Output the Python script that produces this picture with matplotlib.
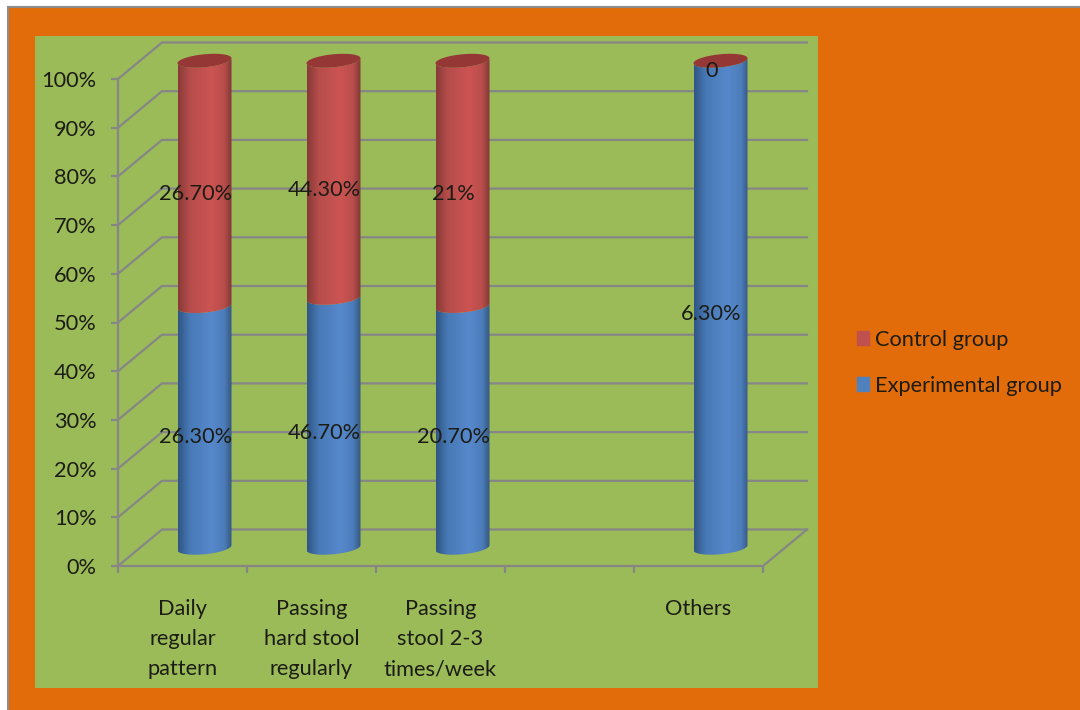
import numpy as np
import matplotlib
matplotlib.use("Agg")
import matplotlib.pyplot as plt
from matplotlib.colors import LinearSegmentedColormap
from matplotlib.patches import PathPatch, Rectangle
from matplotlib.path import Path

# Bowel pattern by study group
categories = ["Daily\nregular\npattern", "Passing\nhard stool\nregularly",
              "Passing\nstool 2-3\ntimes/week", "", "Others"]
experimental = [26.3, 46.7, 20.7, None, 6.3]
control = [26.7, 44.3, 21, None, 0]
percent_ticks = list(range(0, 101, 10))

W, H = 1080, 710
GRID = "#868686"
TEXT = "#1c1c14"

plt.rcParams["font.family"] = ["Lato", "DejaVu Sans"]
plt.rcParams["font.size"] = 15.7

fig = plt.figure(figsize=(W / 100, H / 100), dpi=100, facecolor="white")


def box(x0, y0, x1, y1):
    # pixel box (y down) to figure fractions
    return [x0 / W, 1 - y1 / H, (x1 - x0) / W, (y1 - y0) / H]


def add_rect(x0, y0, x1, y1, **kw):
    l, b, w, h = box(x0, y0, x1, y1)
    fig.add_artist(Rectangle((l, b), w, h, transform=fig.transFigure, zorder=-1, **kw))


add_rect(8, 7, W + 20, H + 20, facecolor="#E36C0A", edgecolor="#8C8C8C", linewidth=1.5)
add_rect(35, 36, 818, 688, facecolor="#9BBB59", edgecolor="none")

ax = fig.add_axes(box(118, 79, 763, 566))
ax.patch.set_visible(False)

# depth of the 3D box, in data units
dx = 44 / 129
dy = 36.5 / 4.87

for p in percent_ticks:
    ax.plot([0, dx, 5 + dx], [p, p + dy, p + dy], color=GRID, lw=1.6, clip_on=False, zorder=1,
            solid_joinstyle="miter")
ax.plot([5, 5 + dx], [0, dy], color=GRID, lw=1.6, clip_on=False, zorder=1)

# cylinder sizes, in data units
a = 27 / 129
b = 6.5 / 4.87
s = 2.5 / 4.87


def front_arc(cx, y):
    t = np.linspace(np.pi, 2 * np.pi, 60)
    return cx + a * np.cos(t), y + b * np.sin(t) + s * np.cos(t)


def shaded(colors):
    return LinearSegmentedColormap.from_list("cyl", list(zip([0, 0.22, 0.62, 0.86, 1], colors)))


blue_map = shaded(["#2F5583", "#487AB7", "#5688CC", "#4C7CB9", "#34567F"])
red_map = shaded(["#883A38", "#B64D4B", "#CC5452", "#B84D4B", "#7F3735"])
gradient = np.linspace(0, 1, 256).reshape(1, -1)


def segment(cx, low, high, cmap):
    x1, y1 = front_arc(cx, low)
    x2, y2 = front_arc(cx, high)
    verts = np.column_stack([np.r_[x1, x2[::-1]], np.r_[y1, y2[::-1]]])
    verts = np.vstack([verts, verts[0]])
    im = ax.imshow(gradient, cmap=cmap, aspect="auto", zorder=3,
                   extent=[cx - a, cx + a, low - 3 * b, high + 3 * b])
    im.set_clip_box(fig.bbox)
    im.set_clip_path(PathPatch(Path(verts), transform=ax.transData))


def label_text(v):
    if v == 0:
        return "0"
    if float(v).is_integer():
        return f"{v:.0f}%"
    return f"{v:.2f}%"


for i, (e, c) in enumerate(zip(experimental, control)):
    if e is None:
        continue
    share = e / (e + c) * 100
    cx = i + 0.5 + dx / 2
    yc = dy / 2
    segment(cx, yc, yc + share, blue_map)
    if c > 0:
        segment(cx, yc + share, yc + 100, red_map)
    # top of the cylinder
    t = np.linspace(0, 2 * np.pi, 120)
    ax.fill(cx + a * np.cos(t), yc + 100 + b * np.sin(t) + s * np.cos(t),
            color="#953735", zorder=4, clip_on=False, lw=0)
    # value labels
    for v, mid in ((e, share / 2), (c, share + (100 - share) / 2)):
        ax.annotate(label_text(v), (i + 0.5, mid), xytext=(13, 8), textcoords="offset pixels",
                    ha="center", va="center", color=TEXT, zorder=5, annotation_clip=False)

ax.set_xlim(0, 5)
ax.set_ylim(0, 100)

for side in ("top", "right"):
    ax.spines[side].set_visible(False)
for side in ("left", "bottom"):
    ax.spines[side].set_color(GRID)
    ax.spines[side].set_linewidth(1.6)

ax.set_yticks(percent_ticks)
ax.set_yticklabels([f"{p}%" for p in percent_ticks], color=TEXT)
ax.set_xticks(range(6))
ax.set_xticklabels([])
ax.set_xticks(np.arange(5) + 0.5, categories, minor=True, color=TEXT, linespacing=1.64)
ax.tick_params(axis="both", which="major", color=GRID, width=1.6, length=5)
ax.tick_params(axis="y", pad=10.5)
ax.tick_params(axis="x", which="minor", length=0, pad=23.5)

handles = [Rectangle((0, 0), 1, 1, color="#C0504D"), Rectangle((0, 0), 1, 1, color="#4F81BD")]
fig.legend(handles, ["Control group", "Experimental group"], loc="center left",
           bbox_to_anchor=(837 / W, 1 - 363 / H), frameon=False, labelcolor=TEXT,
           handlelength=0.55, handleheight=0.62, handletextpad=0.3, labelspacing=1.2)

fig.savefig("out.png", dpi=100)
